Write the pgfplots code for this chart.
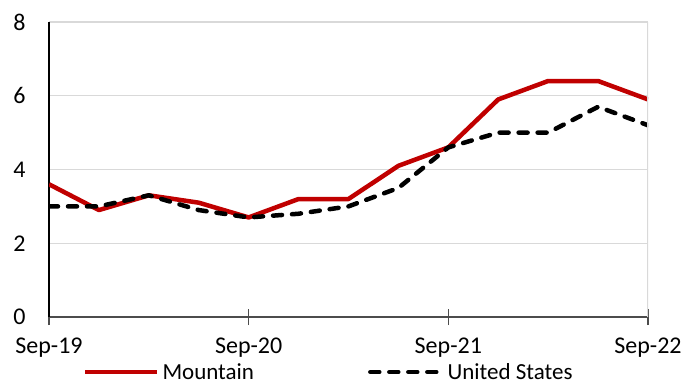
\documentclass[border=0pt]{standalone}
\usepackage{pgfplots}
\pgfplotsset{compat=1.18}
\usepackage{fontspec}
\setmainfont{Carlito}
\definecolor{mtred}{HTML}{C00000}
\definecolor{gridgray}{HTML}{D9D9D9}
\begin{document}
\begin{tikzpicture}
\path[use as bounding box] (-49pt,-71pt) rectangle (646pt,317pt);
\begin{axis}[
  at={(0pt,0pt)}, anchor=origin,
  scale only axis, width=599pt, height=295pt,
  xmin=0, xmax=12, ymin=0, ymax=8,
  axis x line*=bottom, axis y line*=left,
  x axis line style={color=black!70, line width=1.2pt},
  y axis line style={color=black, line width=1.2pt},
  xtick={0,4,8,12}, xticklabels={Sep-19,Sep-20,Sep-21,Sep-22},
  ytick={0,2,4,6,8},
  ymajorgrids, major grid style={color=gridgray, line width=1.2pt},
  tick align=center,
  x tick style={color=black!70, line width=1.2pt},
  major tick length=16pt,
  y tick style={draw=none},
  /pgf/number format/assume math mode=true,
  tick label style={font=\fontsize{24}{28}\selectfont},
  yticklabel style={xshift=-12pt},
  xticklabel style={yshift=-9pt},
  legend style={draw=none, fill=none, at={(34pt,-55pt)}, anchor=west,
    font=\fontsize{23}{27}\selectfont, legend columns=2,
    /tikz/every even column/.append style={column sep=111pt},
    inner sep=0pt, outer sep=0pt, row sep=0pt,
    nodes={inner xsep=3pt, inner ysep=0pt, text depth=0pt}},
  legend cell align=left,
  legend image code/.code={\draw[#1] (0pt,0pt) -- (72pt,0pt);},
]
\addplot[mtred, line width=4.5pt, line join=round] coordinates {
(0,3.6) (1,2.9) (2,3.3) (3,3.1) (4,2.7) (5,3.2) (6,3.2) (7,4.1) (8,4.6) (9,5.9) (10,6.4) (11,6.4) (12,5.9)};
\addlegendentry{Mountain}
\addplot[black, line width=4.5pt, line cap=round, line join=round, dash pattern=on 9pt off 10pt] coordinates {
(0,3.0) (1,3.0) (2,3.3) (3,2.9) (4,2.7) (5,2.8) (6,3.0) (7,3.5) (8,4.6) (9,5.0) (10,5.0) (11,5.7) (12,5.2)};
\addlegendentry{United States}
\draw[gridgray, line width=1.2pt] (rel axis cs:1,0) -- (rel axis cs:1,1);
\end{axis}
\end{tikzpicture}
\end{document}
